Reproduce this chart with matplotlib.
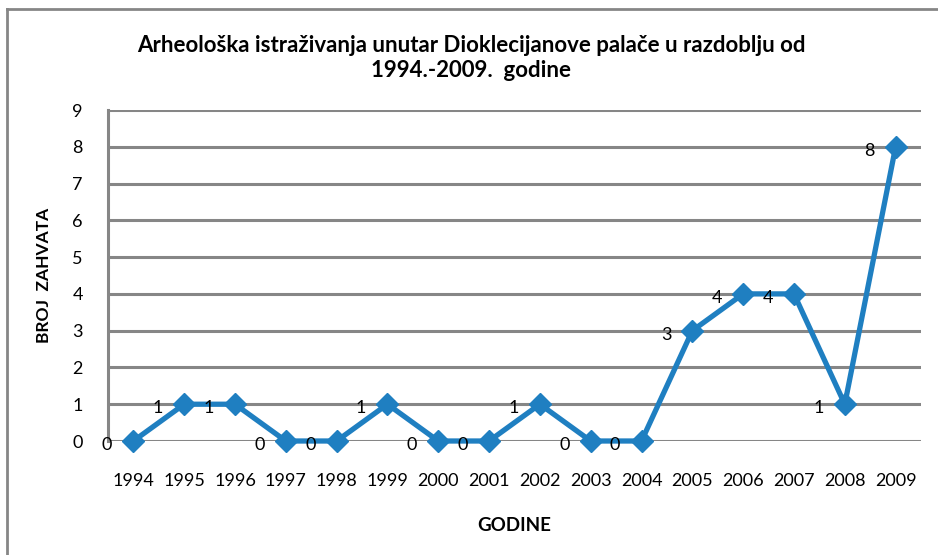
import matplotlib
matplotlib.use('Agg')
from matplotlib import pyplot as plt
from matplotlib.lines import Line2D

plt.rcParams['font.family'] = ['Lato', 'DejaVu Sans']

godine = ['1994', '1995', '1996', '1997', '1998', '1999', '2000', '2001',
          '2002', '2003', '2004', '2005', '2006', '2007', '2008', '2009']
zahvati = [0, 1, 1, 0, 0, 1, 0, 0, 1, 0, 0, 3, 4, 4, 1, 8]

naslov = 'Arheološka istraživanja unutar Dioklecijanove palače u razdoblju od\n1994.-2009.  godine'
line_color = '#1f7fc1'
grid_color = '#868686'

fig = plt.figure(figsize=(9.38, 5.55), dpi=100)
ax = fig.add_axes([0.1151, 0.2054, 0.8668, 0.5964])

x = list(range(len(godine)))
ax.plot(x, zahvati, color=line_color, lw=3.8, marker='D', markersize=11,
        markeredgecolor=line_color, zorder=3, clip_on=False)

for xi, yi in zip(x, zahvati):
    ax.annotate(str(yi), (xi, yi), xytext=(-19, -3), textcoords='offset points',
                ha='center', va='center', fontsize=13, color='black', zorder=4)

ax.set_xlim(-0.5, len(godine) - 0.5)
ax.set_ylim(0, 9)
ax.set_yticks(range(10))
ax.set_xticks(x)
ax.set_xticklabels(godine)
ax.tick_params(axis='both', length=0, labelsize=13)
ax.tick_params(axis='x', pad=23)
ax.tick_params(axis='y', pad=18)
ax.yaxis.grid(True, color=grid_color, lw=2.2)
ax.set_axisbelow(True)
for s in ['top', 'right', 'bottom']:
    ax.spines[s].set_visible(False)
ax.spines['left'].set_color(grid_color)
ax.spines['left'].set_linewidth(2.2)

ax.set_xlabel('GODINE', fontsize=13.5, fontweight='bold', labelpad=20)
ax.set_ylabel('BROJ  ZAHVATA', fontsize=12.5, fontweight='bold', labelpad=15)

fig.text(0.502, 0.8955, naslov, ha='center', va='center', fontsize=16,
         fontweight='bold', linespacing=1.25)

# okvir grafikona
fig.add_artist(Line2D([0.0075, 0.0075], [0.0, 0.984], transform=fig.transFigure,
                      color=grid_color, lw=2))
fig.add_artist(Line2D([0.0075, 1.0], [0.984, 0.984], transform=fig.transFigure,
                      color=grid_color, lw=2))

fig.savefig('out.png', dpi=100)
